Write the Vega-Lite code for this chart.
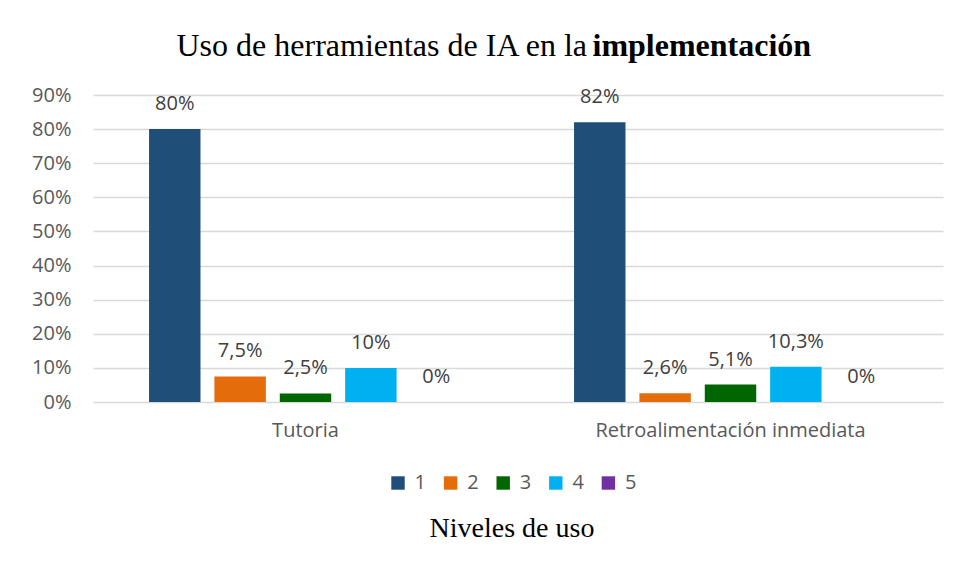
{
  "$schema": "https://vega.github.io/schema/vega-lite/v6.json",
  "width": 850,
  "height": 307,
  "autosize": {"type": "none"},
  "padding": {"left": 93, "top": 95, "right": 20, "bottom": 175},
  "background": "white",
  "config": {
    "locale": {"number": {"decimal": ",", "thousands": ".", "grouping": [3], "currency": ["", " €"]}},
    "view": {"stroke": null}
  },
  "data": {
    "values": [
      {"cat": "Tutoria", "nivel": "1", "value": 0.8},
      {"cat": "Tutoria", "nivel": "2", "value": 0.075},
      {"cat": "Tutoria", "nivel": "3", "value": 0.025},
      {"cat": "Tutoria", "nivel": "4", "value": 0.1},
      {"cat": "Tutoria", "nivel": "5", "value": 0},
      {"cat": "Retroalimentación inmediata", "nivel": "1", "value": 0.82},
      {"cat": "Retroalimentación inmediata", "nivel": "2", "value": 0.026},
      {"cat": "Retroalimentación inmediata", "nivel": "3", "value": 0.051},
      {"cat": "Retroalimentación inmediata", "nivel": "4", "value": 0.103},
      {"cat": "Retroalimentación inmediata", "nivel": "5", "value": 0}
    ]
  },
  "encoding": {
    "x": {
      "field": "cat",
      "type": "nominal",
      "sort": null,
      "scale": {"paddingInner": 0.231, "paddingOuter": 0.1155},
      "axis": {
        "title": "Uso de herramientas de IA en la",
        "titleX": 83,
        "titleY": -347,
        "titleAlign": "left",
        "titleAnchor": null,
        "titleBaseline": "alphabetic",
        "titleFont": "Liberation Serif",
        "titleFontSize": 32,
        "titleFontWeight": "normal",
        "titleColor": "black",
        "labelAngle": 0,
        "labelLimit": 500,
        "domain": false,
        "ticks": false,
        "labelFont": "Open Sans",
        "labelFontSize": 20,
        "labelColor": "#595959",
        "labelPadding": 18
      }
    },
    "xOffset": {
      "field": "nivel",
      "type": "nominal",
      "scale": {"paddingInner": 0.213, "paddingOuter": 0.1065}
    },
    "y": {
      "field": "value",
      "type": "quantitative",
      "scale": {"domain": [0, 0.9], "nice": false},
      "axis": {
        "values": [0, 0.1, 0.2, 0.3, 0.4, 0.5, 0.6, 0.7, 0.8, 0.9],
        "format": "~%",
        "title": "implementación",
        "titleAngle": 0,
        "titleX": 499,
        "titleY": -40,
        "titleAlign": "left",
        "titleBaseline": "alphabetic",
        "titleFont": "Liberation Serif",
        "titleFontSize": 32,
        "titleFontWeight": "bold",
        "titleColor": "black",
        "grid": true,
        "gridColor": "#d9d9d9",
        "gridWidth": 1.5,
        "domain": false,
        "ticks": false,
        "labelFont": "Open Sans",
        "labelFontSize": 20,
        "labelColor": "#595959",
        "labelPadding": 22
      }
    }
  },
  "layer": [
    {
      "mark": {"type": "bar"},
      "encoding": {
        "color": {
          "field": "nivel",
          "type": "nominal",
          "scale": {
            "domain": ["1", "2", "3", "4", "5"],
            "range": ["#1F4E79", "#E46C0A", "#006600", "#00B0F0", "#7030A0"]
          },
          "legend": {
            "orient": "none",
            "legendX": 295,
            "legendY": 378,
            "direction": "horizontal",
            "title": "Niveles de uso",
            "titleOrient": "bottom",
            "titleAnchor": "middle",
            "titleFont": "Liberation Serif",
            "titleFontSize": 28,
            "titleFontWeight": "normal",
            "titleColor": "black",
            "titlePadding": 22,
            "symbolType": "square",
            "symbolSize": 180,
            "symbolStrokeWidth": 0,
            "labelFont": "Open Sans",
            "labelFontSize": 20,
            "labelColor": "#595959",
            "labelOffset": 6.6,
            "columnPadding": 13.6,
            "padding": 0
          }
        }
      }
    },
    {
      "mark": {
        "type": "text",
        "dy": -25,
        "baseline": "middle",
        "font": "Open Sans",
        "fontSize": 20,
        "color": "#404040"
      },
      "encoding": {
        "text": {"field": "value", "type": "quantitative", "format": ".1~%"}
      }
    }
  ]
}
